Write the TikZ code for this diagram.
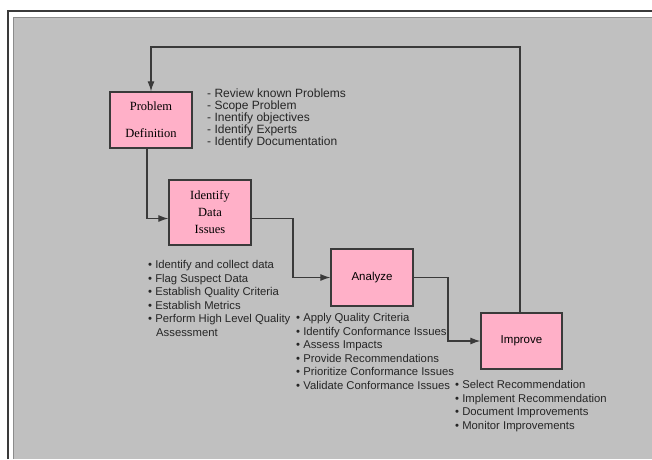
\documentclass[tikz,border=0pt]{standalone}
\usepackage{fontspec}
\setmainfont{Liberation Serif}
\setsansfont{Liberation Sans}
\usetikzlibrary{arrows.meta}

\definecolor{bggray}{RGB}{192,192,192}
\definecolor{boxpink}{RGB}{255,176,200}
\definecolor{linegray}{RGB}{58,58,58}

\begin{document}
\begin{tikzpicture}[x=1pt,y=-1pt,
  stage/.style={draw=linegray, line width=1.3pt, fill=boxpink, minimum width=82pt, inner sep=0pt, align=center},
  notes/.style={anchor=north west, inner sep=0pt, align=left, text=black!85, font=\sffamily\fontsize{11.3}{13.5}\selectfont},
  flow/.style={draw=linegray, line width=1.2pt, -{Latex[length=10pt,width=7pt]}}]
  \def\picw{652}
  \def\pich{459}

  \useasboundingbox (0,0) rectangle (\picw,\pich);
  \fill [white] (0,0) rectangle (\picw,\pich);
  \fill [bggray] (13,17) rectangle (\picw,\pich);
  \draw [black!45, line width=1pt] (13.5,\pich) -- (13.5,17.5) -- (\picw,17.5);
  \draw [linegray, line width=1.2pt] (8,\pich) -- (8,11) -- (\picw,11);

  %% stages
  \node [stage, minimum height=56pt, font=\rmfamily\fontsize{12.5}{27}\selectfont] (pd) at (151,120) {Problem\\Definition};
  \node [stage, minimum height=65pt, font=\rmfamily\fontsize{12.5}{17}\selectfont] (idi) at (210,212.5) {Identify\\Data\\Issues};
  \node [stage, minimum height=57pt, font=\sffamily\fontsize{11.5}{13}\selectfont] (ana) at (372,277.5) {Analyze};
  \node [stage, minimum width=81pt, minimum height=56pt, font=\sffamily\fontsize{11.5}{13}\selectfont] (imp) at (521.5,341) {Improve};

  %% task lists
  \node [notes, font=\sffamily\fontsize{12}{12}\selectfont] (pdlist) at (207,88.5)
    {- Review known Problems\\- Scope Problem\\- Inentify objectives\\- Identify Experts\\- Identify Documentation};
  \node [notes] (idilist) at (148,260.5)
    {\textbullet\ Identify and collect data\\\textbullet\ Flag Suspect Data\\\textbullet\ Establish Quality Criteria\\\textbullet\ Establish Metrics\\\textbullet\ Perform High Level Quality\\\hspace{8pt}Assessment};
  \node [notes] (analist) at (296,313.5)
    {\textbullet\ Apply Quality Criteria\\\textbullet\ Identify Conformance Issues\\\textbullet\ Assess Impacts\\\textbullet\ Provide Recommendations\\\textbullet\ Prioritize Conformance Issues\\\textbullet\ Validate Conformance Issues};
  \node [notes] (implist) at (455,380.5)
    {\textbullet\ Select Recommendation\\\textbullet\ Implement Recommendation\\\textbullet\ Document Improvements\\\textbullet\ Monitor Improvements};

  %% connectors
  \coordinate (fb) at (0,47);
  \coordinate (j1) at (293,250);
  \coordinate (j2) at (448,310);
  \draw [flow] ([xshift=-4pt]pd.south) |- ([yshift=-6pt]idi.west);
  \draw [flow] ([yshift=-6pt]idi.east) -| (j1) |- (ana.west);
  \draw [flow] (ana.east) -| (j2) |- (imp.west);
  \draw [flow] ([xshift=-1.5pt]imp.north) |- (pd.north |- fb) -- (pd.north);

\end{tikzpicture}
\end{document}
